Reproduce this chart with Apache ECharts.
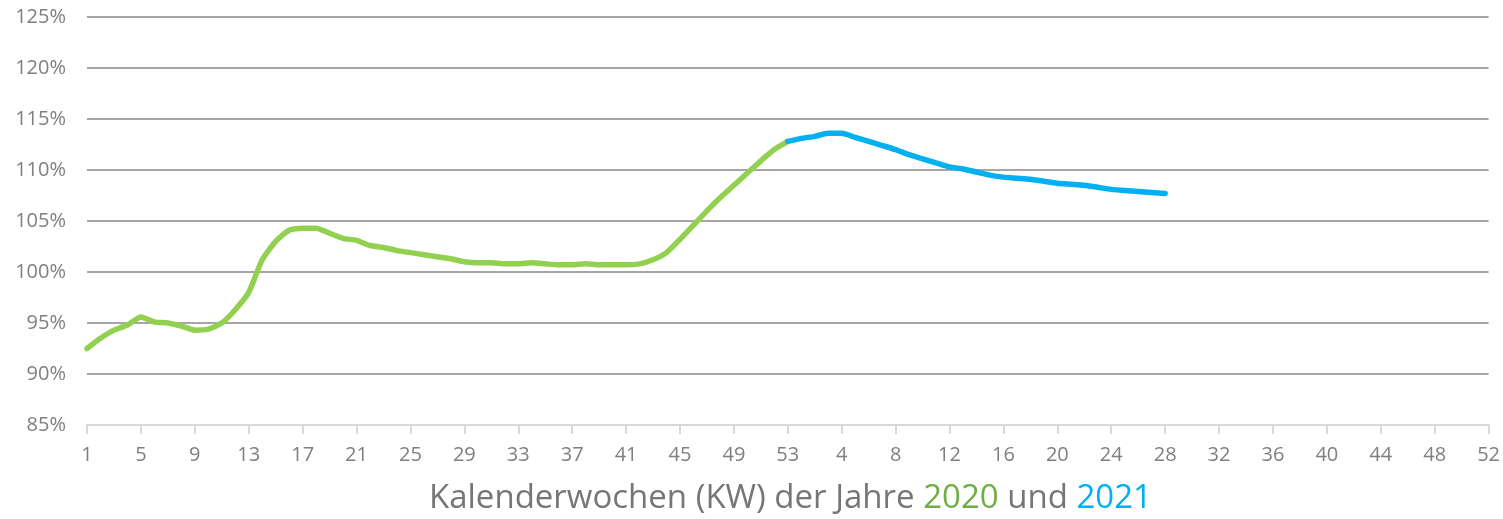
<!DOCTYPE html>
<html>
<head>
<meta charset="utf-8">
<script src="https://cdn.jsdelivr.net/npm/echarts@6/dist/echarts.min.js"></script>
<style>html,body{margin:0;padding:0;background:#fff}#c{width:1503px;height:519px}</style>
</head>
<body>
<div id="c"></div>
<script>
// Calendar weeks: 2020 has 53 weeks, 2021 has 52 weeks
const weeks2020 = Array.from({length: 53}, (_, i) => String(i + 1));
const weeks2021 = Array.from({length: 52}, (_, i) => String(i + 1));
const yTicks = [85, 90, 95, 100, 105, 110, 115, 120, 125];

// Values in percent
const values2020 = [
  92.5, 93.5, 94.3, 94.8, 95.6, 95.1, 95.0, 94.7, 94.3, 94.4,
  95.0, 96.3, 98.0, 101.2, 103.0, 104.1, 104.3, 104.3, 103.8, 103.3,
  103.1, 102.6, 102.4, 102.1, 101.9, 101.7, 101.5, 101.3, 101.0, 100.9,
  100.9, 100.8, 100.8, 100.9, 100.8, 100.7, 100.7, 100.8, 100.7, 100.7,
  100.7, 100.8, 101.2, 101.9, 103.2, 104.6, 106.0, 107.3, 108.5, 109.7,
  110.9, 112.0, 112.8
];
const values2021 = [
  113.1, 113.3, 113.6, 113.6, 113.2, 112.8, 112.4, 112.0, 111.5, 111.1,
  110.7, 110.3, 110.1, 109.8, 109.5, 109.3, 109.2, 109.1, 108.9, 108.7,
  108.6, 108.5, 108.3, 108.1, 108.0, 107.9, 107.8, 107.7
];

const categories = weeks2020.concat(weeks2021);
const series2020 = values2020.concat(new Array(weeks2021.length).fill(null));
// 2021 line starts from the last 2020 point so both parts join
const series2021 = new Array(weeks2020.length - 1).fill(null)
  .concat([values2020[values2020.length - 1]])
  .concat(values2021)
  .concat(new Array(weeks2021.length - values2021.length).fill(null));

const chart = echarts.init(document.getElementById('c'), null, {renderer: 'canvas'});
chart.setOption({
  animation: false,
  backgroundColor: '#ffffff',
  grid: {left: 87, right: 7, top: 17, bottom: 94, containLabel: false},
  title: {
    text: '{g|Kalenderwochen (KW) der Jahre }{a|2020}{g| und }{b|2021}',
    left: 424, top: 477,
    textStyle: {
      fontWeight: 'normal',
      rich: {
        g: {color: '#767676', fontSize: 33, fontWeight: 'normal', fontFamily: 'Open Sans'},
        a: {color: '#70ad47', fontSize: 33, fontWeight: 'normal', fontFamily: 'Open Sans'},
        b: {color: '#00b0f0', fontSize: 33, fontWeight: 'normal', fontFamily: 'Open Sans'}
      }
    }
  },
  xAxis: {
    type: 'category',
    data: categories,
    boundaryGap: false,
    axisLine: {lineStyle: {color: '#d9d9d9', width: 2}},
    axisTick: {show: true, interval: 3, length: 9, lineStyle: {color: '#d9d9d9', width: 2}},
    axisLabel: {interval: 3, color: '#7f7f7f', fontSize: 20, fontFamily: 'Open Sans', margin: 20},
    splitLine: {show: false}
  },
  yAxis: {
    type: 'value',
    min: yTicks[0], max: yTicks[yTicks.length - 1], interval: 5,
    axisLine: {show: false},
    axisTick: {show: false},
    axisLabel: {formatter: '{value}%', color: '#7f7f7f', fontSize: 20, fontFamily: 'Open Sans', margin: 21},
    splitLine: {lineStyle: {color: '#a6a6a6', width: 2}}
  },
  series: [
    {
      name: '2020', type: 'line', data: series2020, showSymbol: false, smooth: 0.2,
      lineStyle: {color: '#92d050', width: 5.5, cap: 'round', join: 'round'}, z: 2
    },
    {
      name: '2021', type: 'line', data: series2021, showSymbol: false, smooth: 0.2,
      lineStyle: {color: '#00b0f0', width: 5.5, cap: 'round', join: 'round'}, z: 3
    }
  ]
});
</script>
</body>
</html>
